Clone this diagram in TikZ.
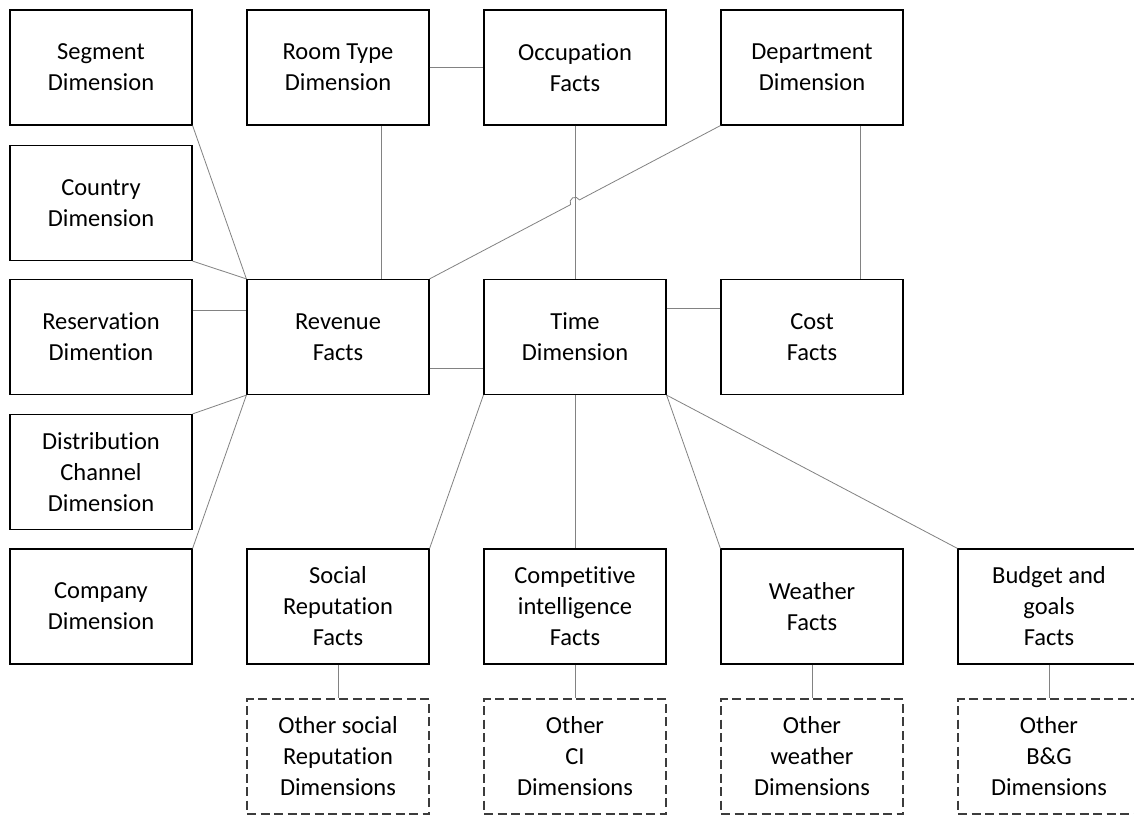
\documentclass[tikz,border=0pt]{standalone}
\usepackage{fontspec}
\setmainfont[Ligatures=NoCommon]{Carlito}
\usetikzlibrary{calc}
\definecolor{dashgray}{RGB}{60,60,60}
\definecolor{linkgray}{RGB}{130,130,130}
\tikzset{
  box/.style={draw=black, line width=1.2pt, fill=white, minimum width=182pt,
    minimum height=115pt, align=center, inner sep=2pt,
    font=\fontsize{24.5}{31}\selectfont},
  otherbox/.style={box, draw=dashgray, line width=1.1pt,
    dash pattern=on 9pt off 4.5pt},
  link/.style={draw=linkgray, line width=0.8pt}
}
\begin{document}
\begin{tikzpicture}[x=1pt,y=1pt]
\clip (0,0) rectangle (1134,-814);
\fill[white] (0,0) rectangle (1134,-814);

% left column of dimensions
\node[box] (seg)  at (101,-67.5) {Segment\\Dimension};
\node[box] (ctry) at (101,-203)  {Country\\Dimension};
\node[box] (resv) at (101,-337)  {Reservation\\Dimention};
\node[box] (dist) at (101,-472)  {Distribution\\Channel\\Dimension};
\node[box] (comp) at (101,-606.5){Company\\Dimension};

% top row
\node[box] (room) at (338,-67.5) {Room Type\\Dimension};
\node[box] (occ)  at (575,-67.5) {Occupation\\Facts};
\node[box] (dept) at (812,-67.5) {Department\\Dimension};

% middle row
\node[box] (rev)  at (338,-337) {Revenue\\Facts};
\node[box] (time) at (575,-337) {Time\\Dimension};
\node[box] (cost) at (812,-337) {Cost\\Facts};

% lower row of facts
\node[box] (soc)  at (338,-606.5)  {Social\\Reputation\\Facts};
\node[box] (ci)   at (575,-606.5)  {Competitive\\intelligence\\Facts};
\node[box] (wea)  at (812,-606.5)  {Weather\\Facts};
\node[box] (bud)  at (1049,-606.5) {Budget and\\goals\\Facts};

% dashed boxes for further dimensions
\node[otherbox] (osoc) at (338,-756.5)  {Other social\\Reputation\\Dimensions};
\node[otherbox] (oci)  at (575,-756.5)  {Other\\CI\\Dimensions};
\node[otherbox] (owea) at (812,-756.5)  {Other\\weather\\Dimensions};
\node[otherbox] (obud) at (1049,-756.5) {Other\\B\&G\\Dimensions};

% connectors
\draw[link] (room.south -| 381,0) -- (rev.north -| 381,0);
\draw[link] (room.east) -- (occ.west);
\draw[link] (occ.south) -- (time.north);
\draw[link] (dept.south -| 860,0) -- (cost.north -| 860,0);
\draw[link] (seg.south east) -- (rev.north west);
\draw[link] (ctry.south east) -- (rev.north west);
\draw[link] (resv.east |- 0,-310) -- (rev.west |- 0,-310);
\draw[link] (dist.north east) -- (rev.south west);
\draw[link] (comp.north east) -- (rev.south west);
\draw[link] (rev.east |- 0,-368) -- (time.west |- 0,-368);
\draw[link] (time.east |- 0,-308) -- (cost.west |- 0,-308);
\draw[link] (time.south west) -- (soc.north east);
\draw[link] (time.south) -- (ci.north);
\draw[link] (time.south east) -- (wea.north west);
\draw[link] (time.south east) -- (bud.north west);
\draw[link] (soc.south) -- (osoc.north);
\draw[link] (ci.south) -- (oci.north);
\draw[link] (wea.south) -- (owea.north);
\draw[link] (bud.south) -- (obud.north);

% department to revenue, hopping over the occupation line
\coordinate (hop) at ($(dept.south west)!0.5!(rev.north east)$);
\coordinate (hopa) at ($(hop)!5pt!(dept.south west)$);
\draw[link] (dept.south west) -- (hopa)
  arc[start angle=27.96, end angle=207.96, radius=5pt] -- (rev.north east);
\end{tikzpicture}
\end{document}
